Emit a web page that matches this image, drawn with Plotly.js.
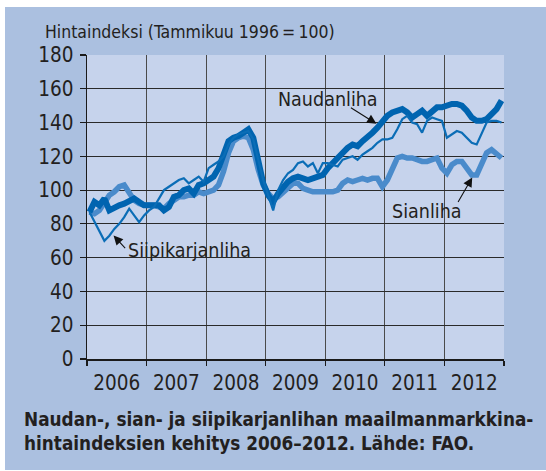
<!DOCTYPE html>
<html>
<head>
<meta charset="utf-8">
<script src="https://cdn.plot.ly/plotly-3.0.1.min.js"></script>
<style>
  html, body { margin: 0; padding: 0; background: #ffffff; width: 546px; height: 471px; overflow: hidden; }
  #chart { position: absolute; left: 5px; top: 7px; width: 541px; height: 463px; }
</style>
</head>
<body>
<div id="chart"></div>
<script>
// Years shown on the x axis (monthly data Jan 2006 – Dec 2012)
const years = ['2006', '2007', '2008', '2009', '2010', '2011', '2012'];

// Naudanliha (beef) price index, monthly
const naudanliha = [
  87, 93, 91, 95, 88, 90, 91, 92, 94, 95, 93, 91,
  91, 91, 91, 88, 90, 96, 97, 100, 101, 98, 103, 104,
  106, 108, 113, 120, 129, 131, 132, 134, 136, 131, 116, 104,
  97, 93, 98, 102, 105, 107, 108, 107, 106, 107, 108, 109,
  113, 116, 119, 123, 125, 127, 126, 129, 131, 134, 137, 141,
  144, 146, 147, 148, 146, 143, 145, 147, 144, 147, 149, 149,
  150, 151, 151, 150, 147, 143, 141, 141, 142, 145, 148, 153
];

// Sianliha (pork) price index, monthly
const sianliha = [
  87, 86, 88, 92, 97, 99, 102, 103, 98, 94, 92, 91,
  91, 91, 90, 89, 92, 94, 96, 96, 97, 97, 99, 98,
  99, 100, 103, 111, 122, 129, 131, 132, 131, 124, 112, 103,
  98, 95, 96, 99, 102, 104, 104, 101, 100, 99, 99, 99,
  99, 99, 100, 104, 106, 105, 106, 107, 106, 107, 107, 102,
  106, 113, 119, 120, 119, 119, 118, 117, 117, 118, 119, 113,
  110, 115, 117, 117, 113, 109, 109, 115, 122, 124, 121, 119
];

// Siipikarjanliha (poultry) price index, monthly
const siipikarjanliha = [
  87, 81, 76, 70, 73, 77, 80, 84, 89, 85, 81, 85,
  88, 90, 95, 100, 102, 104, 106, 107, 104, 106, 108, 105,
  113, 115, 117, 120, 127, 131, 133, 134, 135, 130, 118, 106,
  97, 88, 100, 106, 110, 112, 116, 117, 114, 116, 110, 116,
  116, 115, 114, 118, 119, 120, 118, 121, 123, 125, 128, 130,
  130, 131, 136, 142, 144, 140, 139, 134, 141, 143, 142, 141,
  131, 133, 135, 134, 131, 128, 127, 133, 140, 141, 141, 140
];

const seriesNames = ['Naudanliha', 'Sianliha', 'Siipikarjanliha'];
const yTitle = 'Hintaindeksi (Tammikuu 1996\u2009=\u2009100)';
const caption = 'Naudan-, sian- ja siipikarjanlihan maailmanmarkkina-<br>hintaindeksien kehitys 2006–2012. Lähde: FAO.';

const months = naudanliha.map((_, i) => i);
const yearMid = years.map((_, k) => k * 12 + 5.5);
const yearBounds = years.map((_, k) => k * 12 - 0.5).concat([years.length * 12 - 0.5]);

const FONT = '"DejaVu Sans Condensed", "Liberation Sans Narrow", Arial, sans-serif';
const TXT = '#231f20';

const traces = [
  { x: months, y: sianliha, name: seriesNames[1], mode: 'lines',
    line: { color: '#4a8bcb', width: 5.5, shape: 'linear' } },
  { x: months, y: naudanliha, name: seriesNames[0], mode: 'lines',
    line: { color: '#0064b0', width: 6, shape: 'linear' } },
  { x: months, y: siipikarjanliha, name: seriesNames[2], mode: 'lines',
    line: { color: '#0b6db6', width: 2.2, shape: 'linear' } }
];

const labelFont = { family: FONT, size: 19.5, color: TXT };
const arrowStyle = { text: '', showarrow: true, arrowhead: 2, arrowsize: 1.7, arrowwidth: 1.1, arrowcolor: '#111' };

const layout = {
  width: 541, height: 463,
  margin: { l: 82, r: 42, t: 48, b: 111 },
  paper_bgcolor: '#abc0e0',
  plot_bgcolor: '#c6d3ec',
  showlegend: false,
  font: { family: FONT, color: TXT },
  xaxis: {
    range: [-0.5, 83.5],
    tickmode: 'array', tickvals: yearMid, ticktext: years,
    ticks: '', showgrid: false, zeroline: false,
    tickfont: { family: FONT, size: 20.5, color: TXT },
    ticklabelstandoff: 5,
    showline: true, linecolor: '#1a1a1a', linewidth: 1.5,
    minor: { tickmode: 'array', tickvals: yearBounds, ticks: 'outside', ticklen: 5,
             tickcolor: '#1a1a1a', tickwidth: 1.2, showgrid: true, gridcolor: '#4a4a4a', gridwidth: 1.2 },
    fixedrange: true
  },
  yaxis: {
    range: [0, 180], tickmode: 'linear', tick0: 0, dtick: 20,
    ticks: 'outside', ticklen: 6, tickcolor: '#1a1a1a', tickwidth: 1.2,
    showgrid: true, gridcolor: '#2a2a2a', gridwidth: 1,
    zeroline: false, showline: true, linecolor: '#1a1a1a', linewidth: 1.5,
    tickfont: { family: FONT, size: 20.5, color: TXT },
    ticklabelstandoff: 2,
    fixedrange: true
  },
  annotations: [
    { xref: 'paper', yref: 'paper', x: -0.106, y: 1.0757, xanchor: 'left', yanchor: 'middle',
      text: yTitle, showarrow: false, font: { family: FONT, size: 17.5, color: TXT } },
    { xref: 'paper', yref: 'paper', x: -0.157, y: -0.2395, xanchor: 'left', yanchor: 'middle', align: 'left',
      text: '<b>' + caption + '</b>', showarrow: false, font: { family: FONT, size: 18.8, color: TXT } },
    // series labels
    { xref: 'x', yref: 'y', x: 48, y: 153.5, text: seriesNames[0], showarrow: false, font: labelFont },
    { xref: 'x', yref: 'y', x: 67.9, y: 87.6, text: seriesNames[1], showarrow: false, font: labelFont },
    { xref: 'x', yref: 'y', x: 20.2, y: 64, text: seriesNames[2], showarrow: false, font: labelFont },
    // arrows
    Object.assign({ xref: 'x', yref: 'y', x: 57.8, y: 139.3, ax: -27, ay: -17 }, arrowStyle),
    Object.assign({ xref: 'x', yref: 'y', x: 77.1, y: 107.5, ax: -15, ay: 26 }, arrowStyle),
    Object.assign({ xref: 'x', yref: 'y', x: 4.85, y: 73.1, ax: 13, ay: 14 }, arrowStyle)
  ]
};

Plotly.newPlot('chart', traces, layout, { staticPlot: true, displayModeBar: false });
</script>
</body>
</html>
